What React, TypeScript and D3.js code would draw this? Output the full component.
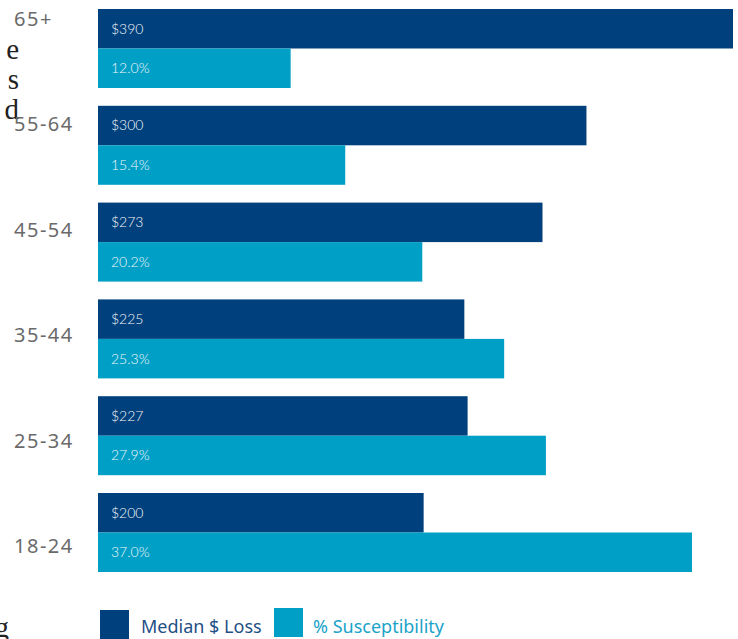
import React from "react";
import * as d3 from "d3";

const ageGroups = ["65+", "55-64", "45-54", "35-44", "25-34", "18-24"];
const medianLoss = [390, 300, 273, 225, 227, 200];
const susceptibility = [12.0, 15.4, 20.2, 25.3, 27.9, 37.0];
const legendLabels = ["Median $ Loss", "% Susceptibility"];
const strayText = ["e", "s", "d"];

const W = 738;
const H = 639;
const DARK = "#00407c";
const LIGHT = "#009fc5";

export default function App() {
  const x0 = 98;
  const xLoss = d3.scaleLinear().domain([0, 390]).range([x0, 733]);
  const xPct = d3.scaleLinear().domain([0, 37]).range([x0, 692]);
  const yGroup = d3
    .scaleBand<string>()
    .domain(ageGroups)
    .range([9, 572])
    .paddingInner(0.184)
    .paddingOuter(0);
  const yLabel = d3.scalePoint<string>().domain(ageGroups).range([19, 546]);
  const bw = yGroup.bandwidth();

  return (
    <svg
      width={W}
      height={H}
      style={{ position: "absolute", left: 0, top: 0, background: "#fff" }}
    >
      {strayText.map((t, i) => (
        <text
          key={t}
          x={19}
          y={59 + i * 30}
          textAnchor="end"
          fontFamily="Liberation Serif"
          fontSize={29}
          fill="#222"
        >
          {t}
        </text>
      ))}
      <text x={9} y={637} textAnchor="end" fontFamily="Liberation Serif" fontSize={29} fill="#222">
        g
      </text>
      {ageGroups.map((g, i) => {
        const y = yGroup(g)!;
        return (
          <g key={g}>
            <rect x={x0} y={y} width={xLoss(medianLoss[i]) - x0} height={bw / 2} fill={DARK} />
            <rect x={x0} y={y + bw / 2} width={xPct(susceptibility[i]) - x0} height={bw / 2} fill={LIGHT} />
            <text
              x={x0 + 13}
              y={y + bw / 4}
              dy="0.35em"
              fill="#f4f7fb"
              fontFamily="Lato"
              fontWeight={300}
              fontSize={14}
            >
              {"$" + medianLoss[i]}
            </text>
            <text
              x={x0 + 13}
              y={y + (3 * bw) / 4}
              dy="0.35em"
              fill="#f4f7fb"
              fontFamily="Lato"
              fontWeight={300}
              fontSize={14}
            >
              {susceptibility[i].toFixed(1) + "%"}
            </text>
            <text
              x={14}
              y={yLabel(g)!}
              dy="0.35em"
              fill="#6a6a6a"
              fontFamily="Noto Sans"
              fontSize={20}
              letterSpacing={1.5}
            >
              {g}
            </text>
          </g>
        );
      })}
      <rect x={100} y={610} width={29} height={29} fill={DARK} />
      <text x={141} y={627} dy="0.35em" fill="#1f4f86" fontFamily="Noto Sans" fontSize={18}>
        {legendLabels[0]}
      </text>
      <rect x={274} y={608} width={29} height={29} fill={LIGHT} />
      <text x={313} y={627} dy="0.35em" fill="#1aa3c9" fontFamily="Noto Sans" fontSize={18}>
        {legendLabels[1]}
      </text>
    </svg>
  );
}
